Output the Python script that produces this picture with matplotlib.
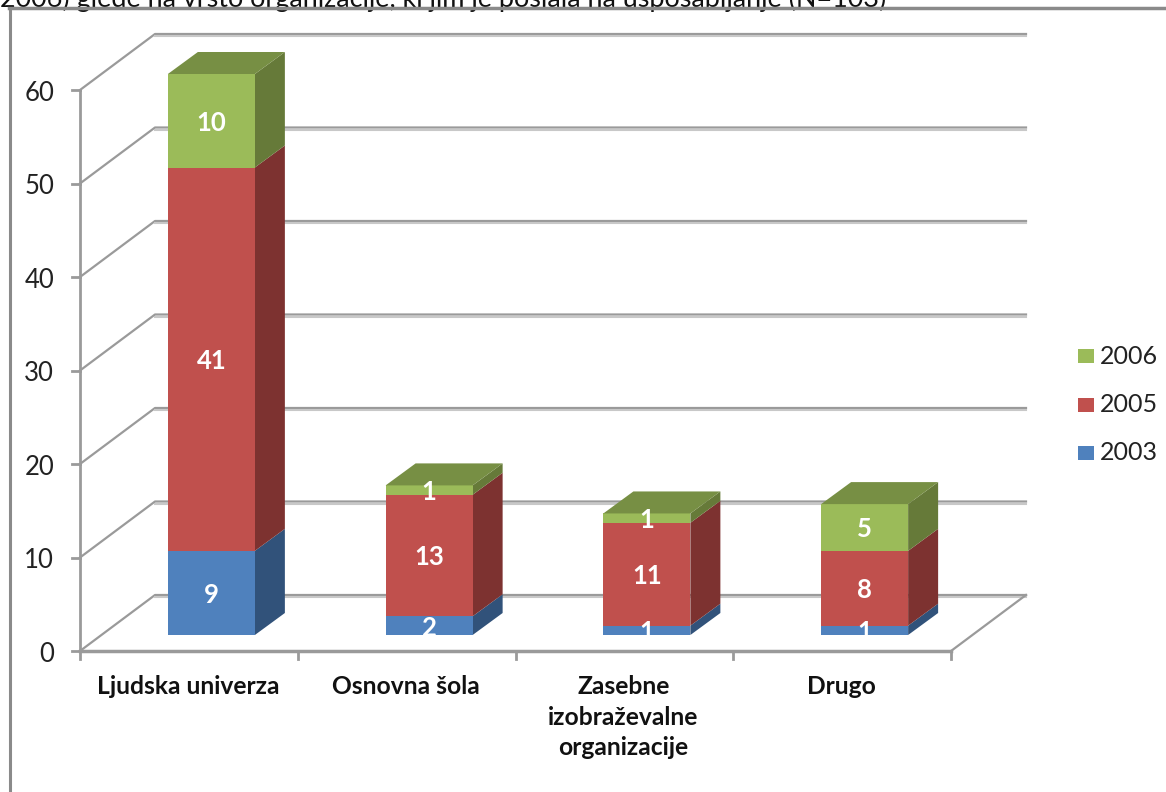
import matplotlib
matplotlib.use("Agg")
import matplotlib.pyplot as plt
from matplotlib.patches import Polygon, Rectangle
import numpy as np

categories = ["Ljudska univerza", "Osnovna šola", "Zasebne\nizobraževalne\norganizacije", "Drugo"]
years = ["2003", "2005", "2006"]
values_2003 = [9, 2, 1, 1]
values_2005 = [41, 13, 11, 8]
values_2006 = [10, 1, 1, 5]
y_ticks = [0, 10, 20, 30, 40, 50, 60]
title_text = "2006) glede na vrsto organizacije, ki jim je poslala na usposabljanje (N=103)"

front_cols = ["#4f81bd", "#c0504d", "#9bbb59"]
side_cols = ["#31527a", "#7d3230", "#667a39"]
top_cols = ["#3e6797", "#9a403d", "#778f44"]

W, H = 1166, 792
X0, Y0 = 80, 651      # pixel position of the origin
CAT_W = 217.75        # pixels per category
UNIT = 9.35           # pixels per value
GRID = "#9a9a9a"

plt.rcParams['font.family'] = ['Lato', 'DejaVu Sans']

fig = plt.figure(figsize=(W / 100, H / 100), dpi=100)
ax = fig.add_axes([0, 0, 1, 1])
ax.set_xlim(-X0 / CAT_W, (W - X0) / CAT_W)
ax.set_ylim(-(H - Y0) / UNIT, Y0 / UNIT)
ax.axis("off")

# depth of the fake 3D box, in data units
wall_dx, wall_dy = 75 / CAT_W, 56 / UNIT
bar_w = 87 / CAT_W
off_x, off_y = 22.5 / CAT_W, 16 / UNIT
bar_dx, bar_dy = 30 / CAT_W, 22 / UNIT
n = len(categories)

# gridlines + wall edge
for t in y_ticks:
    ax.plot([0, wall_dx, n + wall_dx], [t, t + wall_dy, t + wall_dy], color=GRID, lw=1.6, zorder=1)
    ax.plot([wall_dx, n + wall_dx], [t + wall_dy - 0.25] * 2, color="#c8c8c8", lw=1.5, zorder=1)
    ax.plot([-8 / CAT_W, 0], [t, t], color=GRID, lw=2, zorder=2)
    ax.text(-26 / CAT_W, t - 0.35, str(t), ha="right", va="center", fontsize=18.5, color="#222222")
ax.plot([n, n + wall_dx], [0, wall_dy], color=GRID, lw=1.6, zorder=1)

# axes
ax.plot([0, 0], [0, 60], color=GRID, lw=2, zorder=2)
ax.plot([0, n], [0, 0], color=GRID, lw=2.5, zorder=2)
for i in range(n + 1):
    ax.plot([i, i], [0, -8 / UNIT], color=GRID, lw=2, zorder=2)

# stacked bars
series = [values_2003, values_2005, values_2006]
bottom = np.zeros(n)
for s, vals in enumerate(series):
    for i, v in enumerate(vals):
        x = i + 0.5 - bar_w / 2 + off_x
        y0 = bottom[i] + off_y
        y1 = y0 + v
        ax.add_patch(Polygon([(x + bar_w, y0), (x + bar_w + bar_dx, y0 + bar_dy),
                              (x + bar_w + bar_dx, y1 + bar_dy), (x + bar_w, y1)],
                             facecolor=side_cols[s], edgecolor="none", zorder=3 + s))
        ax.add_patch(Rectangle((x, y0), bar_w, v, facecolor=front_cols[s], edgecolor="none", zorder=6))
        ax.text(x + bar_w / 2, y0 + v / 2 - 0.2, str(v), ha="center", va="center", color="white",
                fontsize=18.5, fontweight="bold", zorder=8)
    bottom += np.array(vals)

# top caps
for i in range(n):
    x = i + 0.5 - bar_w / 2 + off_x
    top = bottom[i] + off_y
    ax.add_patch(Polygon([(x, top), (x + bar_dx, top + bar_dy),
                          (x + bar_w + bar_dx, top + bar_dy), (x + bar_w, top)],
                         facecolor=top_cols[2], edgecolor="none", zorder=7))

# category labels
for i, c in enumerate(categories):
    ax.text(i + 0.5 - 0.005, -24 / UNIT, c, ha="center", va="top", fontsize=17.7, fontweight="bold",
            color="#111111", linespacing=1.4)

# legend, reversed like the original
legend_y = [356, 405, 453]
for s, py in zip([2, 1, 0], legend_y):
    ax.add_patch(Rectangle(((1078 - X0) / CAT_W, (Y0 - py - 7) / UNIT), 16 / CAT_W, 14 / UNIT,
                           facecolor=front_cols[s], edgecolor="none"))
    ax.text((1100 - X0) / CAT_W, (Y0 - py) / UNIT, years[s], ha="left", va="center",
            fontsize=18, color="#222222")

# outer frame
ax.plot([(10 - X0) / CAT_W] * 2, [-(H - Y0) / UNIT, (Y0 - 8) / UNIT], color="#8a8a8a", lw=2.2)
ax.plot([(9 - X0) / CAT_W, (W - X0) / CAT_W], [(Y0 - 8) / UNIT] * 2, color="#8a8a8a", lw=2.5, zorder=5)

# caption cut by the top edge in the original
ax.text((0 - X0) / CAT_W, (Y0 + 1) / UNIT, title_text, ha="left", va="center", fontsize=19.45, color="#111111")

fig.savefig("out.png", dpi=100)
